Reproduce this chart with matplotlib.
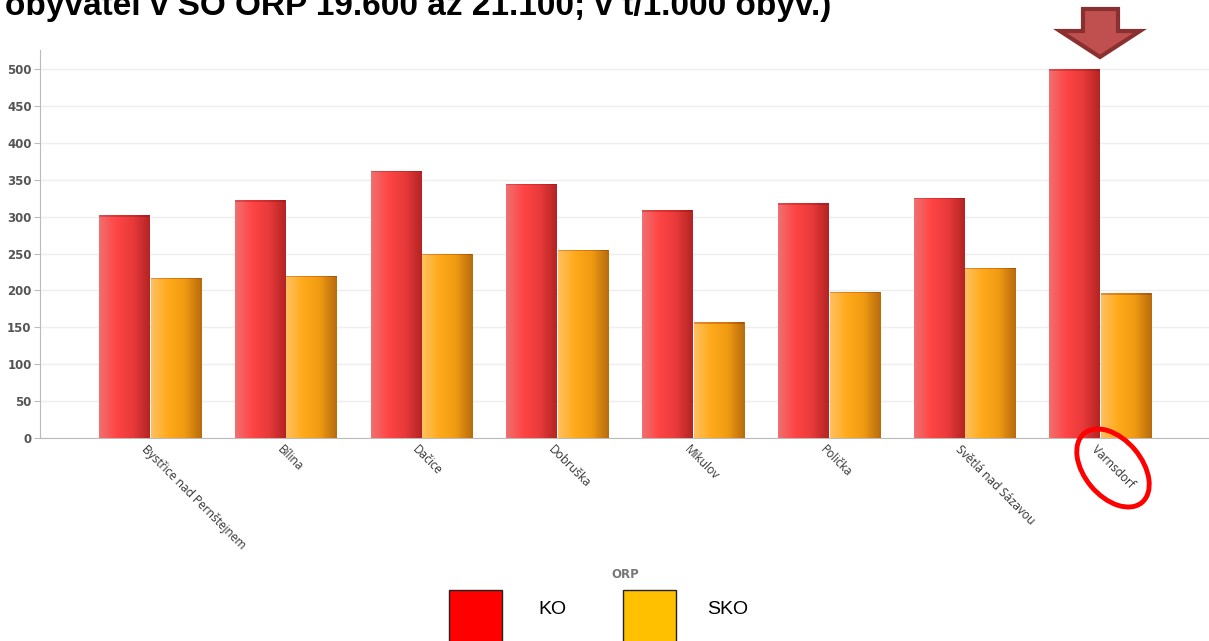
import matplotlib
matplotlib.use("Agg")
import matplotlib.pyplot as plt
import numpy as np
from matplotlib.patches import Rectangle, Ellipse, Polygon
from matplotlib.colors import LinearSegmentedColormap

categories = ["Bystřice nad Pernštejnem", "Bílina", "Dačice", "Dobruška",
              "Mikulov", "Polička", "Světlá nad Sázavou", "Varnsdorf"]
ko = [302, 322, 362, 345, 309, 318, 326, 500]
sko = [217, 220, 250, 255, 157, 198, 231, 196]
series_names = ["KO", "SKO"]
legend_colors = ["#ff0000", "#ffc000"]
yticks = list(range(0, 501, 50))
title = "obyvatel v SO ORP 19.600 až 21.100; v t/1.000 obyv.)"
xlabel = "ORP"

W, H = 1209, 641
fig = plt.figure(figsize=(W / 100, H / 100), dpi=100)
ax = fig.add_axes([40 / W, (H - 438) / H, (W - 40) / W, (438 - 50) / H])

x = np.arange(len(categories))
bw = 0.37
b1 = ax.bar(x - bw / 2 - 0.005, ko, bw, color="none", edgecolor="none", zorder=3)
b2 = ax.bar(x + bw / 2 + 0.005, sko, bw, color="none", edgecolor="none", zorder=3)

cm_red = LinearSegmentedColormap.from_list("r", ["#f07070", "#ff4545", "#e83a3a", "#b52424"])
cm_org = LinearSegmentedColormap.from_list("o", ["#ffc060", "#ffaa1a", "#f09a12", "#b86c0c"])
grad = np.linspace(0, 1, 64).reshape(1, -1)
for bars, cmap in ((b1, cm_red), (b2, cm_org)):
    for p in bars:
        x0, y0 = p.get_x(), p.get_y()
        w, h = p.get_width(), p.get_height()
        im = ax.imshow(grad, cmap=cmap, aspect="auto", extent=(x0, x0 + w, y0, y0 + h),
                       zorder=3, interpolation="bilinear")
        im.set_clip_path(p)
        ax.add_patch(Rectangle((x0, y0 + h - 2), w, 2, color=(0.5, 0, 0, 0.25), lw=0, zorder=4))

ax.set_xlim(-0.81, len(categories) - 1 + 0.8)
ax.set_ylim(0, 526)
ax.set_yticks(yticks)
ax.set_yticklabels([str(v) for v in yticks], fontsize=8.5, fontweight="bold", color="#555555")
ax.yaxis.grid(True, color="#eeeeee", lw=1, zorder=0)
ax.set_axisbelow(True)
ax.tick_params(axis="y", length=4, color="#bbbbbb", pad=2)
ax.tick_params(axis="x", length=0, pad=7)
for s in ("top", "right"):
    ax.spines[s].set_visible(False)
for s in ("left", "bottom"):
    ax.spines[s].set_color("#bbbbbb")

ax.set_xticks(x - 0.05)
ax.set_xticklabels(categories, rotation=-45, rotation_mode="anchor", ha="left", va="center",
                   fontsize=8.6, color="#333333", family="Open Sans")
ax.set_xlabel(xlabel, fontsize=8.5, fontweight="bold", color="#777777", labelpad=0)
ax.xaxis.set_label_coords((625 - 40) / (W - 40), (438 - 568) / (438 - 50))

# title (partly cut off at top, as in the reference)
fig.text(5 / W, 1 - 15 / H, title, fontsize=24, fontweight="bold", family="Liberation Sans",
         ha="left", va="baseline", color="black")

# legend
for i, (name, col) in enumerate(zip(series_names, legend_colors)):
    lx = [449, 623][i]
    fig.add_artist(Rectangle((lx / W, (H - 643) / H), 53 / W, 53 / H, transform=fig.transFigure,
                             facecolor=col, edgecolor="#222222", lw=1))
    fig.text([552, 728][i] / W, 1 - 610 / H, name, fontsize=14, family="Liberation Sans",
             ha="center", va="center", color="black")

# highlight arrow
pts = [(1083, 9), (1118, 9), (1118, 31), (1140, 31), (1100, 57), (1060, 31), (1083, 31)]
arrow = Polygon([(px / 100, (H - py) / 100) for px, py in pts], closed=True,
                transform=fig.dpi_scale_trans, facecolor="#c05050", edgecolor="#8a3030", lw=3)
fig.add_artist(arrow)

# red ellipse around Varnsdorf label
ell = Ellipse((1113 / 100, (H - 468) / 100), 0.57, 0.9, angle=40, fill=False,
              edgecolor="#ff0000", lw=3.5, transform=fig.dpi_scale_trans)
fig.add_artist(ell)

fig.savefig("out.png", dpi=100)
